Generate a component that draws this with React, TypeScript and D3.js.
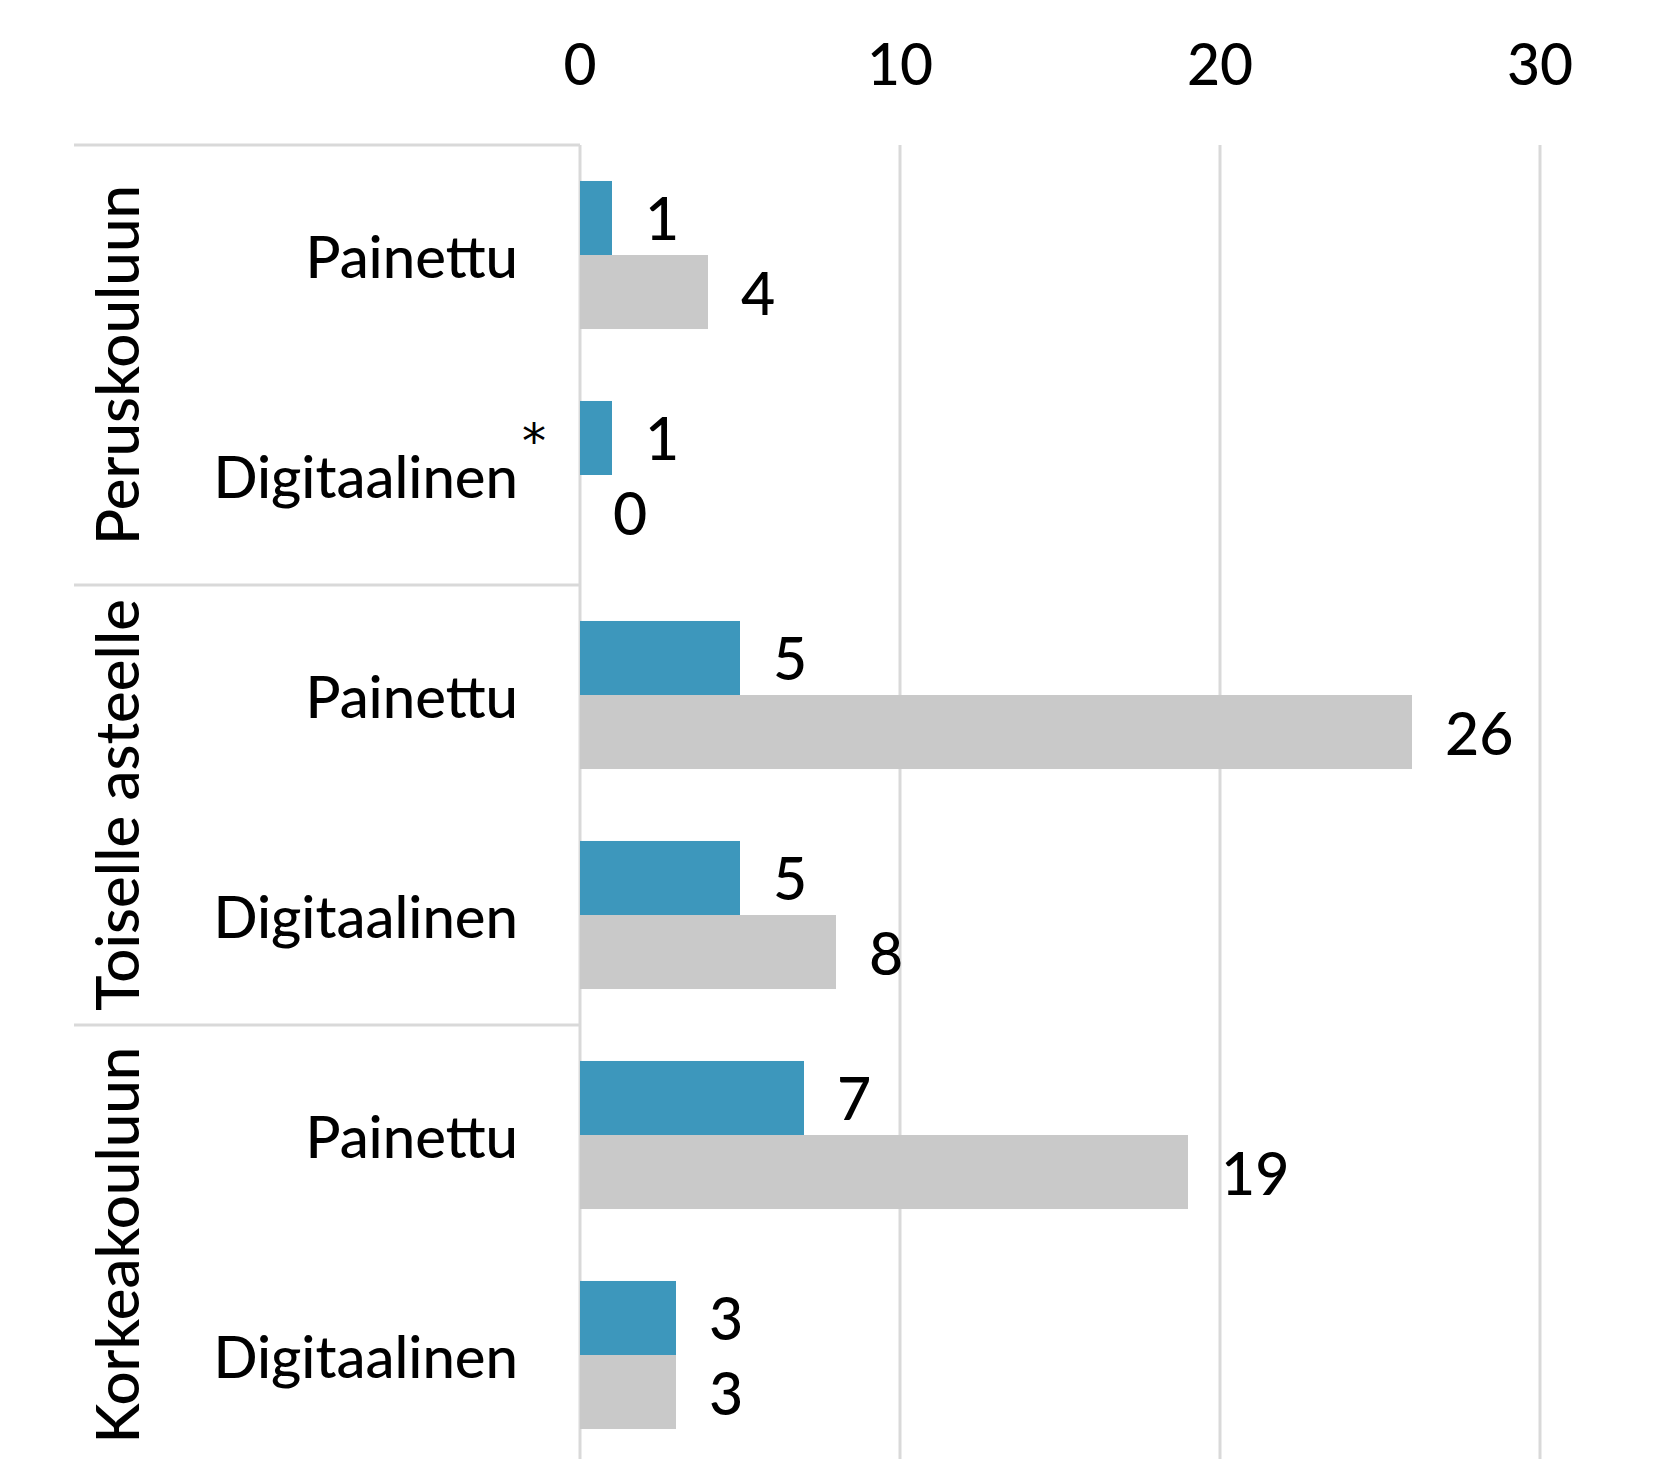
import { useEffect, useRef } from 'react';
import * as d3 from 'd3';

// Data
const groups = ['Peruskouluun', 'Toiselle asteelle', 'Korkeakouluun'];
const types = ['Painettu', 'Digitaalinen'];
const seriesNames = ['sarja1', 'sarja2'];
const blueValues = [1, 1, 5, 5, 7, 3];
const grayValues = [4, 0, 26, 8, 19, 3];
const tickValues = [0, 10, 20, 30];
const colors = ['#3d97bc', '#c9c9c9'];

const App = () => {
    const ref = useRef<SVGSVGElement | null>(null);

    useEffect(() => {
        const width = 1659;
        const height = 1459;
        const font = 'Lato, "Open Sans", sans-serif';
        const gridColor = '#d9d9d9';

        const svg = d3.select(ref.current);
        svg.selectAll('*').remove();

        const rows = groups.flatMap(g => types.map(t => ({ group: g, type: t })));
        const rowKeys = rows.map((r, i) => `${i}`);

        const x = d3.scaleLinear().domain([0, 30]).range([580, 1540]);
        const y = d3.scaleBand().domain(rowKeys).range([145, 1465]).padding(0);
        const inner = d3.scaleBand().domain(seriesNames).range([0, y.bandwidth()])
            .paddingInner(0).paddingOuter(0.486);
        const groupY = d3.scaleBand().domain(groups).range([145, 1465]).padding(0);

        // gridlines
        svg.append('g')
            .selectAll('line')
            .data(tickValues)
            .join('line')
            .attr('x1', d => x(d)).attr('x2', d => x(d))
            .attr('y1', 145).attr('y2', height)
            .attr('stroke', gridColor)
            .attr('stroke-width', 3);

        // group separators
        svg.append('g')
            .selectAll('line')
            .data(groups)
            .join('line')
            .attr('x1', 74).attr('x2', x(0))
            .attr('y1', d => groupY(d)!).attr('y2', d => groupY(d)!)
            .attr('stroke', gridColor)
            .attr('stroke-width', 3);

        // tick labels
        svg.append('g')
            .selectAll('text')
            .data(tickValues)
            .join('text')
            .attr('x', d => x(d))
            .attr('y', 63)
            .attr('text-anchor', 'middle')
            .attr('dominant-baseline', 'central')
            .attr('font-family', font)
            .attr('font-size', 57)
            .attr('font-weight', 500)
            .text(d => d);

        // bars + value labels
        const series = [blueValues, grayValues];
        series.forEach((vals, si) => {
            const g = svg.append('g');
            g.selectAll('rect')
                .data(vals)
                .join('rect')
                .attr('x', x(0))
                .attr('y', (d, i) => y(rowKeys[i])! + inner(seriesNames[si])!)
                .attr('width', d => x(d) - x(0))
                .attr('height', inner.bandwidth())
                .attr('fill', colors[si]);
            g.selectAll('text')
                .data(vals)
                .join('text')
                .attr('x', d => x(d) + 33)
                .attr('y', (d, i) => y(rowKeys[i])! + inner(seriesNames[si])! + inner.bandwidth() / 2)
                .attr('dominant-baseline', 'central')
                .attr('font-family', font)
                .attr('font-size', 59)
                .attr('font-weight', 500)
                .text(d => d);
        });

        // category labels
        svg.append('g')
            .selectAll('text')
            .data(rows)
            .join('text')
            .attr('x', 518)
            .attr('y', (d, i) => y(rowKeys[i])! + y.bandwidth() / 2)
            .attr('text-anchor', 'end')
            .attr('dominant-baseline', 'central')
            .attr('font-family', font)
            .attr('font-size', 58)
            .attr('font-weight', 500)
            .text(d => d.type);

        // asterisk next to first "Digitaalinen"
        svg.append('text')
            .attr('x', 534)
            .attr('y', y(rowKeys[1])! + 76)
            .attr('text-anchor', 'middle')
            .attr('dominant-baseline', 'central')
            .attr('font-family', '"DejaVu Sans", sans-serif')
            .attr('font-size', 48)
            .text('*');

        // group labels, rotated
        svg.append('g')
            .selectAll('text')
            .data(groups)
            .join('text')
            .attr('transform', d => `translate(116,${groupY(d)! + groupY.bandwidth() / 2}) rotate(-90)`)
            .attr('text-anchor', 'middle')
            .attr('dominant-baseline', 'central')
            .attr('font-family', font)
            .attr('font-size', 60)
            .attr('font-weight', 500)
            .text(d => d);

        svg.attr('width', width).attr('height', height);
    }, []);

    return (
        <svg
            ref={ref}
            width={1659}
            height={1459}
            style={{ position: 'absolute', left: 0, top: 0, background: '#fff', display: 'block' }}
        />
    );
};

export default App;
